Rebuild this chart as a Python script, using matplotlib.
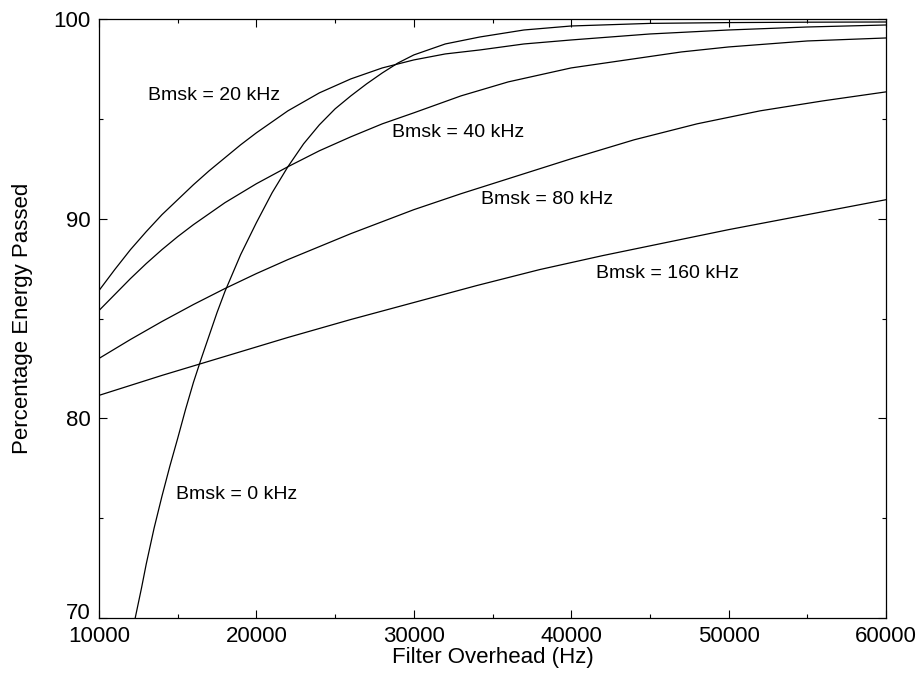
import matplotlib
matplotlib.use('Agg')
import matplotlib.pyplot as plt
from matplotlib.ticker import MultipleLocator, FuncFormatter

plt.rcParams['font.family'] = ['Liberation Sans', 'DejaVu Sans']

# Curves: filter overhead (Hz) -> percentage energy passed
x_0k = [12300, 12700, 13000, 13500, 14000, 14500, 15000, 15500, 16000, 16500,
        17000, 17500, 18000, 19000, 20000, 21000, 22000, 23000, 24000, 25000,
        26000, 27000, 28000, 29000, 30000, 32000, 34200, 37000, 40000, 45000,
        50000, 55000, 60000]
y_0k = [70.0, 71.5, 72.7, 74.5, 76.1, 77.6, 79.0, 80.45, 81.8, 83.0,
        84.15, 85.3, 86.35, 88.2, 89.8, 91.3, 92.6, 93.75, 94.7, 95.5,
        96.15, 96.75, 97.3, 97.8, 98.2, 98.75, 99.1, 99.45, 99.65, 99.78,
        99.82, 99.84, 99.85]

x_20k = [10000, 11000, 12000, 13000, 14000, 15000, 16000, 17000, 18000, 19000,
         20000, 22000, 24000, 26000, 28000, 30000, 32000, 34200, 37000, 40000,
         45000, 50000, 55000, 60000]
y_20k = [86.4, 87.45, 88.45, 89.35, 90.2, 90.95, 91.7, 92.4, 93.05, 93.7,
         94.3, 95.4, 96.3, 97.0, 97.55, 97.95, 98.25, 98.45, 98.75, 98.95,
         99.25, 99.45, 99.6, 99.7]

x_40k = [10000, 11000, 12000, 13000, 14000, 15000, 16000, 17000, 18000, 20000,
         22000, 24000, 26000, 28000, 30000, 33000, 36000, 40000, 43500, 47000,
         50000, 55000, 60000]
y_40k = [85.4, 86.2, 87.0, 87.75, 88.45, 89.1, 89.7, 90.25, 90.8, 91.75,
         92.6, 93.4, 94.1, 94.75, 95.3, 96.15, 96.85, 97.55, 97.95, 98.35,
         98.6, 98.9, 99.05]

x_80k = [10000, 12000, 14000, 16000, 18000, 20000, 22000, 24000, 26000, 28000,
         30000, 33000, 36000, 40000, 44000, 48000, 52000, 56000, 60000]
y_80k = [83.0, 83.95, 84.85, 85.7, 86.5, 87.25, 87.95, 88.6, 89.25, 89.85,
         90.45, 91.25, 92.0, 93.0, 93.95, 94.75, 95.4, 95.9, 96.35]

x_160k = [10000, 14000, 18000, 22000, 26000, 30000, 34000, 38000, 42000, 46000,
          50000, 55000, 60000]
y_160k = [81.15, 82.15, 83.1, 84.05, 84.95, 85.8, 86.65, 87.45, 88.15, 88.8,
          89.45, 90.2, 90.95]

curves = [(x_0k, y_0k), (x_20k, y_20k), (x_40k, y_40k), (x_80k, y_80k), (x_160k, y_160k)]

# label text and where it sits (left edge x, vertical centre y)
labels = ['Bmsk = 0 kHz', 'Bmsk = 20 kHz', 'Bmsk = 40 kHz', 'Bmsk = 80 kHz', 'Bmsk = 160 kHz']
label_x = [14890, 13090, 28600, 34250, 41580]
label_y = [76.21, 96.16, 94.33, 90.97, 87.23]

y_min, y_max = 70, 100
x_min, x_max = 10000, 60000

fig = plt.figure(figsize=(9.18, 6.83), dpi=100)
ax = fig.add_axes([99 / 918, 65 / 683, 787 / 918, 599 / 683])

for xs, ys in curves:
    ax.plot(xs, ys, color='black', linewidth=0.9)

for txt, lx, ly in zip(labels, label_x, label_y):
    ax.text(lx, ly, txt, fontsize=14, ha='left', va='center')

ax.set_xlim(x_min, x_max)
ax.set_ylim(y_min, y_max)
ax.xaxis.set_major_locator(MultipleLocator(10000))
ax.xaxis.set_minor_locator(MultipleLocator(5000))
ax.yaxis.set_major_locator(MultipleLocator(10))
ax.yaxis.set_minor_locator(MultipleLocator(5))

# bottom y label is drawn by hand a bit higher so it clears "10000"
ax.yaxis.set_major_formatter(FuncFormatter(lambda v, p: '' if v <= y_min else '%d' % v))
ax.annotate('%d' % y_min, xy=(0, y_min), xycoords=('axes fraction', 'data'),
            xytext=(-6, 5), textcoords='offset points',
            ha='right', va='center_baseline', fontsize=16)

ax.tick_params(which='both', direction='in', top=True, right=True, width=0.8)
ax.tick_params(which='major', length=5.5)
ax.tick_params(which='minor', length=3)
ax.tick_params(axis='x', which='major', labelsize=16, pad=6)
ax.tick_params(axis='y', which='major', labelsize=16, pad=6)
for sp in ax.spines.values():
    sp.set_linewidth(0.9)

ax.set_xlabel('Filter Overhead (Hz)', fontsize=16, labelpad=0)
ax.set_ylabel('Percentage Energy Passed', fontsize=16)
ax.yaxis.set_label_coords(-0.084, 0.5)

fig.savefig('out.png', dpi=100)
